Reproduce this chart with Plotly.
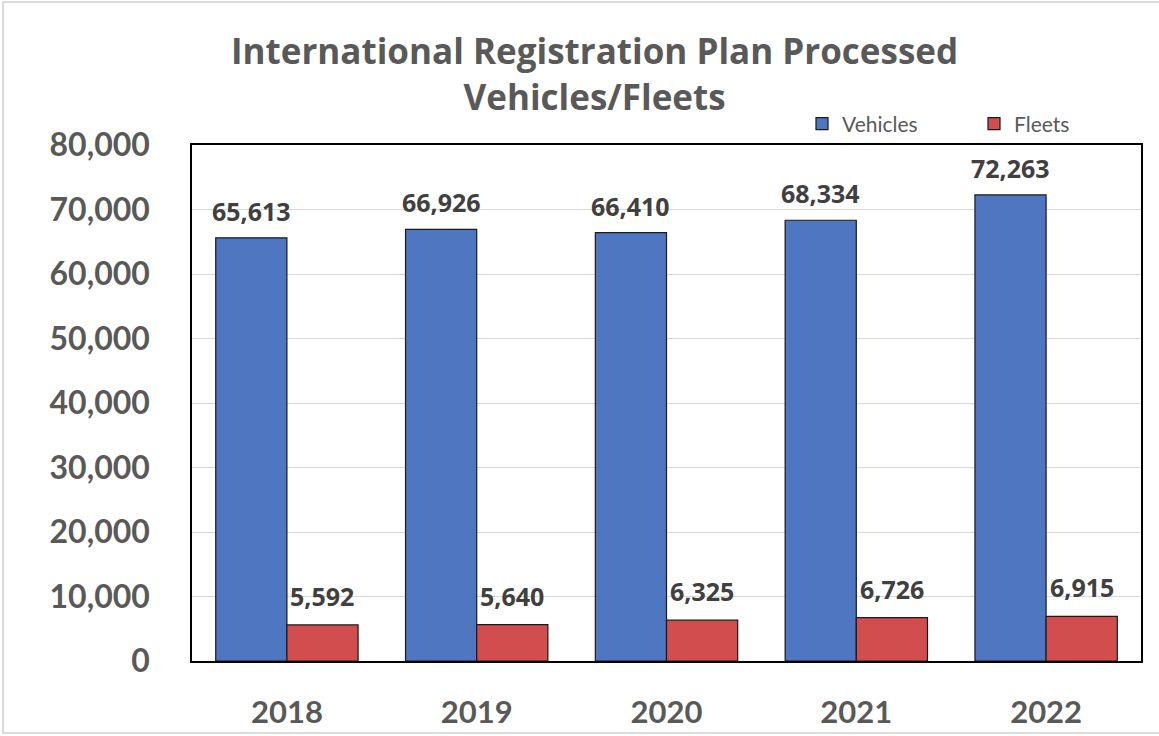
import plotly.graph_objects as go

years = ["2018", "2019", "2020", "2021", "2022"]
vehicles = [65613, 66926, 66410, 68334, 72263]
fleets = [5592, 5640, 6325, 6726, 6915]
y_ticks = [0, 10000, 20000, 30000, 40000, 50000, 60000, 70000, 80000]

GRAY = "#595959"
LABEL = "#404040"
TFONT = "Open Sans"
AFONT = "Lato"

W, H = 1159, 736
L, R, T, B = 192, 18, 145, 75
PW, PH = W - L - R, H - T - B
BARGAP = 0.25
bar_px = PW / len(years) * (1 - BARGAP) / 2

fig = go.Figure()
fig.add_trace(go.Bar(
    x=years, y=vehicles, name="Vehicles",
    marker=dict(color="#4F76C0", line=dict(color="#1a1a1a", width=1.2)),
))
fig.add_trace(go.Bar(
    x=years, y=fleets, name="Fleets",
    marker=dict(color="#D24D4D", line=dict(color="#1a1a1a", width=1.2)),
))

# data labels (x given as category index)
for series, sign, pad in ((vehicles, -1, 8), (fleets, 1, 10)):
    for i, v in enumerate(series):
        fig.add_annotation(
            x=i, y=v, xref="x", yref="y", text=f"{v:,}", showarrow=False,
            xshift=sign * bar_px / 2, yshift=pad, yanchor="bottom", xanchor="center",
            font=dict(size=25, color=LABEL, family=TFONT, weight="bold"),
        )

fig.update_layout(
    width=W, height=H,
    margin=dict(l=L, r=R, t=T, b=B, autoexpand=False),
    paper_bgcolor="white", plot_bgcolor="white",
    barmode="group", bargap=BARGAP, bargroupgap=0,
    title=dict(
        text="International Registration Plan Processed<br>Vehicles/Fleets",
        x=0.513, xanchor="center", xref="container",
        y=1 - 64 / H, yanchor="middle", yref="container",
        font=dict(size=35, color=GRAY, family=TFONT, weight="bold"),
    ),
    legend=dict(
        orientation="h", x=(802 - L) / PW, xanchor="left",
        y=1 + 21 / PH, yanchor="middle",
        font=dict(size=21, color=GRAY, family=AFONT),
        itemwidth=30, entrywidth=127, bgcolor="rgba(0,0,0,0)",
    ),
    showlegend=True,
)
fig.update_xaxes(
    type="category", range=[-0.5, len(years) - 0.5], autorange=False,
    showline=True, linecolor="black", linewidth=1.5, mirror=True,
    tickfont=dict(size=31, color=GRAY, family=AFONT, weight="bold"),
    ticks="", ticklabelstandoff=23,
)
fig.update_yaxes(
    range=[0, 80000], autorange=False, tickvals=y_ticks, tickformat=",",
    showline=True, linecolor="black", linewidth=1.5, mirror=True,
    showgrid=True, gridcolor="#D9D9D9", gridwidth=1.2,
    tickfont=dict(size=32, color=GRAY, family=AFONT, weight="bold"),
    ticks="", ticklabelstandoff=34, zeroline=False,
)
# outer chart border
fig.add_shape(type="rect", xref="paper", yref="paper",
              x0=(3 - L) / PW, x1=(W + 2 - L) / PW,
              y0=-(B - 3) / PH, y1=1 + (T - 2) / PH,
              line=dict(color="#D0D0D0", width=1.5), fillcolor="rgba(0,0,0,0)", layer="below")

fig.write_html("out.html", config={"displayModeBar": False},
               post_script="document.body.style.margin='0';")
